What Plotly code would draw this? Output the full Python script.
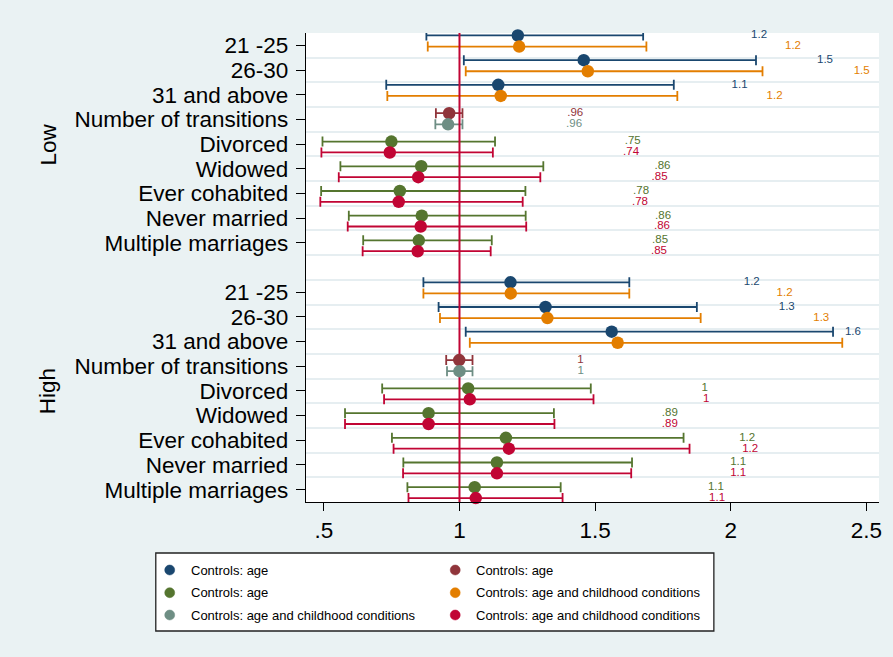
import plotly.graph_objects as go

# ---------------- data ----------------
groups = ["Low", "High"]
age_cats = ["21 -25", "26-30", "31 and above"]
trans_cats = ["Number of transitions"]
marital_cats = ["Divorced", "Widowed", "Ever cohabited", "Never married", "Multiple marriages"]

x_tickvals = [0.5, 1, 1.5, 2, 2.5]
x_ticktext = [".5", "1", "1.5", "2", "2.5"]

# values listed Low group first, then High group
blue_est = [1.215, 1.458, 1.143, 1.188, 1.317, 1.561]
blue_lo = [0.878, 1.016, 0.730, 0.867, 0.923, 1.023]
blue_hi = [1.677, 2.093, 1.790, 1.626, 1.875, 2.377]

orange_est = [1.220, 1.473, 1.152, 1.189, 1.324, 1.583]
orange_lo = [0.883, 1.023, 0.734, 0.867, 0.928, 1.038]
orange_hi = [1.689, 2.117, 1.803, 1.626, 1.889, 2.411]

darkred_est = [0.962, 0.999]
darkred_lo = [0.913, 0.951]
darkred_hi = [1.011, 1.048]

gray_est = [0.958, 1.000]
gray_lo = [0.911, 0.954]
gray_hi = [1.011, 1.048]

green_est = [0.749, 0.859, 0.780, 0.861, 0.850, 1.032, 0.886, 1.171, 1.138, 1.056]
green_lo = [0.495, 0.561, 0.490, 0.592, 0.645, 0.715, 0.578, 0.751, 0.793, 0.808]
green_hi = [1.131, 1.309, 1.243, 1.244, 1.119, 1.484, 1.348, 1.826, 1.636, 1.373]

red_est = [0.743, 0.848, 0.776, 0.857, 0.846, 1.038, 0.886, 1.182, 1.138, 1.060]
red_lo = [0.491, 0.555, 0.487, 0.588, 0.643, 0.722, 0.578, 0.757, 0.792, 0.812]
red_hi = [1.123, 1.298, 1.233, 1.246, 1.115, 1.494, 1.350, 1.848, 1.633, 1.380]

name_age = "Controls: age"
name_child = "Controls: age and childhood conditions"

# ---------------- styling ----------------
FONT = "Liberation Sans, Arial, sans-serif"
BG = "#EAF2F3"
GRID = "#E6EEF1"
C_BLUE = "#1A476F"
C_ORANGE = "#E37E00"
C_DARKRED = "#90353B"
C_GRAY = "#6E8E84"
C_GREEN = "#55752F"
C_RED = "#C10534"

all_cats = age_cats + trans_cats + marital_cats
n_per_group = len(all_cats)
row_step = n_per_group + 1  # one empty row between the groups

def rows_for(cats, gi):
    start = all_cats.index(cats[0])
    return [gi * row_step + start + k for k in range(len(cats))]

def stata_g(v):
    s = f"{v:.2g}"
    if s.startswith("0."):
        s = s[1:]
    return s

# (name, color, est, lo, hi, categories, y-offset in rows, label shift in x units)
series = [
    (name_age, C_BLUE, blue_est, blue_lo, blue_hi, age_cats, -0.40, 0.86),
    (name_child, C_ORANGE, orange_est, orange_lo, orange_hi, age_cats, 0.05, 0.98),
    (name_age, C_DARKRED, darkred_est, darkred_lo, darkred_hi, trans_cats, -0.25, 0.435),
    (name_child, C_GRAY, gray_est, gray_lo, gray_hi, trans_cats, 0.20, 0.435),
    (name_age, C_GREEN, green_est, green_lo, green_hi, marital_cats, -0.10, 0.86),
    (name_child, C_RED, red_est, red_lo, red_hi, marital_cats, 0.34, 0.86),
]

fig = go.Figure()

prepared = []
for name, color, est, lo, hi, cats, off, shift in series:
    ys = []
    for gi in range(len(groups)):
        ys += [r + off for r in rows_for(cats, gi)]
    prepared.append((name, color, est, lo, hi, ys, shift))

# confidence intervals
for name, color, est, lo, hi, ys, shift in prepared:
    fig.add_trace(go.Scatter(
        x=est, y=ys, mode="markers",
        marker=dict(size=1, color=color, opacity=0),
        error_x=dict(type="data", symmetric=False,
                     array=[h - e for h, e in zip(hi, est)],
                     arrayminus=[e - l for e, l in zip(est, lo)],
                     color=color, thickness=1.8, width=5),
        cliponaxis=False, showlegend=False, hoverinfo="skip"))

# reference line at 1
n_rows = row_step + n_per_group
fig.add_trace(go.Scatter(x=[1, 1], y=[-0.5, n_rows - 0.5], mode="lines",
                         line=dict(color=C_RED, width=2),
                         showlegend=False, hoverinfo="skip"))

# point estimates
for name, color, est, lo, hi, ys, shift in prepared:
    fig.add_trace(go.Scatter(x=est, y=ys, mode="markers", name=name,
                             marker=dict(size=12.5, color=color),
                             cliponaxis=False, showlegend=False))

# value labels
for name, color, est, lo, hi, ys, shift in prepared:
    fig.add_trace(go.Scatter(
        x=[e + shift for e in est], y=ys, mode="text",
        text=[stata_g(e) for e in est], textposition="middle right",
        textfont=dict(family=FONT, size=11.5, color=color),
        cliponaxis=False, showlegend=False, hoverinfo="skip"))

tickvals, ticktext = [], []
for gi in range(len(groups)):
    for k, c in enumerate(all_cats):
        tickvals.append(gi * row_step + k)
        ticktext.append(c)
half_rows = [r - 0.5 for r in range(n_rows + 1)]

W, H = 893, 657
ML, MR, MT, MB = 306, 11, 33, 155
PW, PH = W - ML - MR, H - MT - MB

def px2x(px):
    return (px - ML) / PW

def py2y(py):
    return (H - MB - py) / PH

fig.update_layout(
    width=W, height=H,
    margin=dict(l=ML, r=MR, t=MT, b=MB, pad=0),
    paper_bgcolor=BG, plot_bgcolor="white",
    font=dict(family=FONT, color="black"),
    showlegend=False,
    xaxis=dict(range=[0.4342, 2.5464], tickvals=x_tickvals, ticktext=x_ticktext,
               ticks="outside", ticklen=8, tickwidth=1.3, tickcolor="black",
               showline=True, linecolor="black", linewidth=1.3,
               showgrid=False, zeroline=False,
               tickfont=dict(size=22.5, family=FONT, color="black")),
    yaxis=dict(range=[n_rows - 0.5, -0.5], tickmode="array",
               tickvals=tickvals, ticktext=ticktext,
               ticks="outside", ticklen=9, tickwidth=1.3, tickcolor="black",
               showline=True, linecolor="black", linewidth=1.3,
               showgrid=False, zeroline=False, ticklabelstandoff=3,
               tickfont=dict(size=22.5, family=FONT, color="black"),
               minor=dict(tickmode="array", tickvals=half_rows, ticks="",
                          showgrid=True, gridcolor=GRID, gridwidth=1.8)),
)

# group labels
for gi, g in enumerate(groups):
    mid = gi * row_step + (n_per_group - 1) / 2
    fig.add_annotation(x=px2x(47), y=mid, xref="paper", yref="y",
                       text=g, textangle=-90, showarrow=False,
                       xanchor="center", yanchor="middle",
                       font=dict(size=22.5, family=FONT, color="black"))

# legend box (two columns, filled row by row)
fig.add_shape(type="rect", xref="paper", yref="paper",
              x0=px2x(155), x1=px2x(716), y0=py2y(631), y1=py2y(553),
              fillcolor="white", line=dict(color="#222222", width=1.3), layer="above")
legend_entries = [
    (name_age, C_BLUE), (name_age, C_DARKRED),
    (name_age, C_GREEN), (name_child, C_ORANGE),
    (name_child, C_GRAY), (name_child, C_RED),
]
col_marker_px = [169, 456]
col_text_px = [188, 474.5]
row_py = [570, 592.7, 615]
for i, (label, color) in enumerate(legend_entries):
    c, r = i % 2, i // 2
    fig.add_shape(type="circle", xref="paper", yref="paper",
                  xsizemode="pixel", ysizemode="pixel",
                  xanchor=px2x(col_marker_px[c]), yanchor=py2y(row_py[r]),
                  x0=-5, x1=5, y0=-5, y1=5,
                  fillcolor=color, line=dict(color=color, width=0.5), layer="above")
    fig.add_annotation(x=px2x(col_text_px[c]), y=py2y(row_py[r]),
                       xref="paper", yref="paper", text=label, showarrow=False,
                       xanchor="left", yanchor="middle",
                       font=dict(size=13, family=FONT, color="black"))

fig.write_html("out.html",
               config={"displayModeBar": False},
               post_script="document.body.style.margin='0px';"
                           "document.body.style.background='#EAF2F3';")
